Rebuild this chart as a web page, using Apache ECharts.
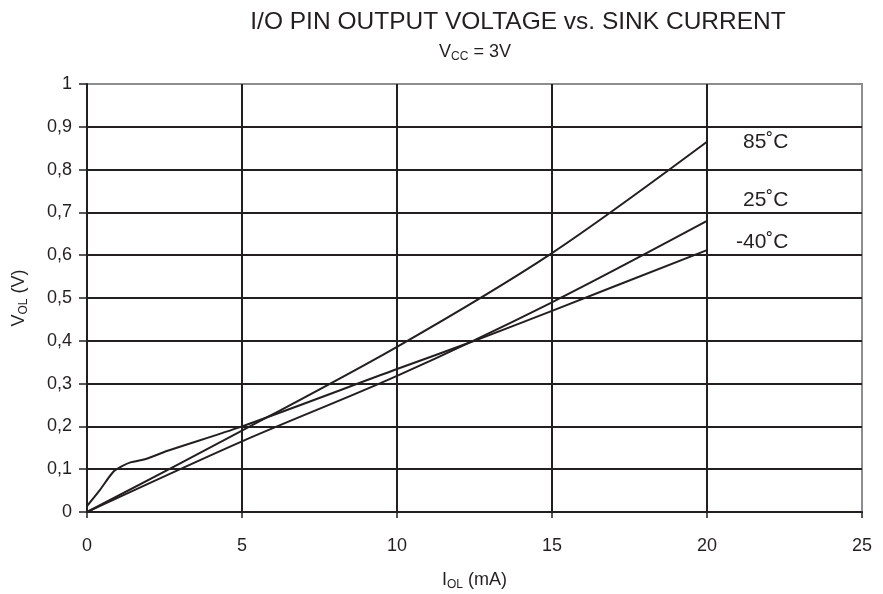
<!DOCTYPE html>
<html>
<head>
<meta charset="utf-8">
<script src="https://cdn.jsdelivr.net/npm/echarts@6/dist/echarts.min.js"></script>
<style>
  html, body { margin: 0; padding: 0; background: #fff; }
  #chart { width: 883px; height: 594px; }
</style>
</head>
<body>
<div id="chart"></div>
<script>
// I_OL (mA) / V_OL (V)
var x85 = [0, 5, 10, 15, 20];
var v85 = [0, 0.19, 0.386, 0.605, 0.865];
var x25 = [0, 5, 10, 15, 20];
var v25 = [0, 0.165, 0.318, 0.49, 0.68];
var xM40 = [0, 0.4, 0.85, 1.1, 1.4, 1.9, 2.6, 5, 10, 12.5, 15, 20];
var vM40 = [0.014, 0.05, 0.094, 0.106, 0.116, 0.124, 0.143, 0.2, 0.334, 0.4, 0.47, 0.612];
var seriesNames = ['85˚C', '25˚C', '-40˚C'];

var ink = '#231f20';
var font = 'Liberation Sans, Arial, sans-serif';

function pairs(xs, ys) {
  return xs.map(function (x, i) { return [x, ys[i]]; });
}

// text with a subscript part
function subRich(size, subSize, drop) {
  return {
    a: { fontFamily: font, fontSize: size, fontWeight: 'normal', color: ink, lineHeight: size + 4 },
    s: { fontFamily: font, fontSize: subSize, fontWeight: 'normal', color: ink, lineHeight: size + 4, padding: [drop, 0, 0, 0] }
  };
}

var myChart = echarts.init(document.getElementById('chart'));

var lineStyle = { color: ink, width: 2 };
var option = {
  animation: false,
  backgroundColor: '#fff',
  title: [{
    text: 'I/O PIN OUTPUT VOLTAGE vs. SINK CURRENT',
    left: 513, top: 5, textAlign: 'center',
    textStyle: { fontFamily: font, fontSize: 24.5, fontWeight: 'normal', color: ink }
  }, {
    text: '{a|V}{s|CC}{a| = 3V}',
    left: 470, top: 36, textAlign: 'center',
    textStyle: { fontWeight: 'normal', rich: subRich(18, 12, 9) }
  }],
  grid: {
    left: 87, right: 21, top: 84, bottom: 82,
    outerBoundsMode: 'none',
    show: true, borderColor: '#8c8e91', borderWidth: 2
  },
  xAxis: {
    type: 'value', min: 0, max: 25, interval: 5,
    name: '{a|I}{s|OL}{a| (mA)}', nameLocation: 'middle', nameGap: 57,
    nameTextStyle: { rich: subRich(18, 12, 9) },
    axisLine: { lineStyle: { color: ink, width: 2 } },
    axisTick: { show: true, length: 6, lineStyle: { color: ink, width: 1.5 } },
    axisLabel: { fontFamily: font, fontSize: 18, color: ink, margin: 25 },
    splitLine: { show: true, showMinLine: false, showMaxLine: false, lineStyle: { color: ink, width: 2 } }
  },
  yAxis: {
    type: 'value', min: 0, max: 1, interval: 0.1,
    name: '{a|V}{s|OL}{a| (V)}', nameLocation: 'middle', nameGap: 57, nameRotate: 90,
    nameTextStyle: { rich: subRich(18, 12, 9) },
    axisLine: { show: true, lineStyle: { color: ink, width: 2 } },
    axisTick: { show: true, length: 8, lineStyle: { color: ink, width: 1.5 } },
    axisLabel: {
      fontFamily: font, fontSize: 18, color: ink, margin: 15,
      formatter: function (v) { return String(Math.round(v * 10) / 10).replace('.', ','); }
    },
    splitLine: { show: true, showMinLine: false, showMaxLine: false, lineStyle: { color: ink, width: 2 } }
  },
  graphic: [
    { type: 'text', left: 743, top: 132, style: { text: seriesNames[0], font: '21px ' + font, fill: ink } },
    { type: 'text', left: 743, top: 190, style: { text: seriesNames[1], font: '21px ' + font, fill: ink } },
    { type: 'text', left: 736, top: 232, style: { text: seriesNames[2], font: '21px ' + font, fill: ink } }
  ],
  series: [
    { name: seriesNames[0], type: 'line', data: pairs(x85, v85), smooth: 0.3, showSymbol: false, lineStyle: lineStyle },
    { name: seriesNames[1], type: 'line', data: pairs(x25, v25), smooth: 0.3, showSymbol: false, lineStyle: lineStyle },
    { name: seriesNames[2], type: 'line', data: pairs(xM40, vM40), smooth: 0.3, showSymbol: false, lineStyle: lineStyle }
  ]
};
myChart.setOption(option);
</script>
</body>
</html>
